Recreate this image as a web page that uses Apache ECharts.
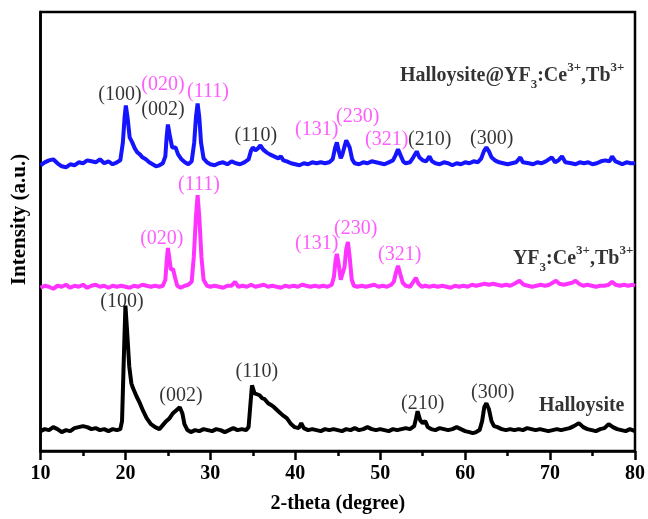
<!DOCTYPE html>
<html>
<head>
<meta charset="utf-8">
<script src="https://cdn.jsdelivr.net/npm/echarts@6/dist/echarts.min.js"></script>
<style>html,body{margin:0;padding:0;background:#fff}#c{width:648px;height:519px}</style>
</head>
<body>
<div id="c"></div>
<script>
// x ticks
const xTicks = [10, 20, 30, 40, 50, 60, 70, 80];

// Halloysite@YF3:Ce3+,Tb3+  [2theta, intensity (a.u., offset)]
const composite = [
[10.0,287],[10.5,290],[11.0,292],[11.5,293],[12.0,289],[12.5,286],[13.0,285],[13.5,288],[14.0,287],[14.5,290],
[15.0,289],[15.5,292],[16.0,291],[16.5,290],[17.0,293],[17.5,289],[18.0,291],[18.5,288],[19.0,290],[19.4,292],
[19.7,310],[19.9,335],[20.05,347],[20.25,335],[20.5,315],[20.8,310],[21.1,304],[21.4,300],[21.7,298],[22.0,295],
[22.4,293],[22.8,290],[23.2,288],[23.6,286],[24.0,287],[24.4,289],[24.7,296],[24.85,315],[25.0,328],[25.2,318],
[25.5,305],[25.9,305],[26.2,298],[26.6,293],[27.0,290],[27.4,288],[27.8,291],[28.1,310],[28.3,335],[28.5,349],
[28.7,335],[28.9,310],[29.2,294],[29.6,290],[30.0,288],[30.5,287],[31.0,289],[31.5,290],[32.0,288],[32.5,291],
[33.0,289],[33.5,288],[34.0,290],[34.5,293],[34.8,302],[35.0,305],[35.3,302],[35.6,304],[35.9,307],[36.2,303],
[36.6,300],[37.0,298],[37.5,296],[38.0,294],[38.3,296],[38.6,292],[39.0,291],[39.5,289],[40.0,288],[40.5,287],
[41.0,289],[41.5,288],[42.0,290],[42.5,289],[43.0,290],[43.5,289],[44.0,290],[44.4,293],[44.7,305],[44.9,310],
[45.1,302],[45.35,294],[45.55,298],[45.8,306],[46.0,312],[46.2,314],[46.4,305],[46.7,293],[47.0,289],[47.5,288],
[48.0,290],[48.5,289],[49.0,291],[49.5,290],[50.0,289],[50.5,288],[51.0,290],[51.5,292],[51.8,297],[52.1,303],
[52.4,297],[52.7,291],[53.0,289],[53.5,290],[53.9,295],[54.3,301],[54.6,295],[55.0,292],[55.4,291],[55.8,296],
[56.1,291],[56.5,289],[57.0,288],[57.5,290],[58.0,289],[58.5,287],[59.0,289],[59.5,288],[60.0,290],[60.5,289],
[61.0,291],[61.5,290],[61.9,294],[62.2,301],[62.5,305],[62.8,301],[63.1,295],[63.5,292],[64.0,290],[64.5,289],
[65.0,288],[65.5,289],[66.0,290],[66.5,295],[66.8,290],[67.5,289],[68.0,288],[68.5,290],[69.0,289],[69.5,291],
[70.2,295],[70.6,290],[71.0,292],[71.4,296],[71.8,290],[72.5,289],[73.0,288],[73.5,290],[74.0,289],[74.5,290],
[75.0,288],[75.5,289],[76.0,291],[76.5,292],[77.0,291],[77.3,296],[77.7,291],[78.0,290],[78.5,288],[79.0,290],
[79.5,289],[80.0,289]
];

// YF3:Ce3+,Tb3+
const yf3 = [
[10.0,164],[10.5,166],[11.0,165],[11.5,163],[12.0,166],[12.5,165],[13.0,167],[13.5,164],[14.0,166],[14.5,165],
[15.0,167],[15.5,164],[16.0,166],[16.5,167],[17.0,165],[17.5,166],[18.0,164],[18.5,166],[19.0,165],[19.5,166],
[20.0,165],[20.5,164],[21.0,166],[21.5,165],[22.0,167],[22.5,166],[23.0,165],[23.5,166],[24.0,165],[24.4,166],
[24.7,172],[24.85,190],[25.0,204],[25.15,195],[25.35,182],[25.6,183],[25.85,174],[26.1,166],[26.5,164],[27.0,166],
[27.4,167],[27.8,170],[28.05,195],[28.3,235],[28.5,257],[28.7,235],[28.95,195],[29.2,172],[29.6,166],[30.0,165],
[30.5,166],[31.0,165],[31.5,164],[32.0,166],[32.5,166],[32.9,170],[33.3,165],[33.8,166],[34.3,165],[34.8,167],
[35.3,165],[35.8,166],[36.3,167],[36.8,165],[37.3,166],[37.8,165],[38.3,164],[38.8,166],[39.3,165],[39.8,166],
[40.3,165],[40.8,167],[41.3,166],[41.8,165],[42.3,166],[42.8,165],[43.3,166],[43.8,165],[44.3,167],[44.55,175],
[44.75,192],[44.9,198],[45.1,188],[45.35,172],[45.55,170],[45.8,185],[46.0,203],[46.2,210],[46.4,195],[46.65,172],
[46.9,166],[47.3,165],[47.8,166],[48.3,165],[48.8,166],[49.3,167],[49.8,165],[50.3,166],[50.8,165],[51.3,167],
[51.6,170],[51.85,179],[52.1,186],[52.35,178],[52.65,169],[53.0,166],[53.5,165],[53.9,170],[54.2,174],[54.5,168],
[54.9,165],[55.3,166],[55.8,165],[56.3,166],[56.8,165],[57.3,166],[57.8,165],[58.3,164],[58.8,166],[59.3,165],
[59.8,166],[60.3,165],[60.8,167],[61.3,166],[61.8,167],[62.3,168],[62.8,167],[63.3,168],[63.8,167],[64.3,166],
[64.8,167],[65.3,166],[65.8,168],[66.4,171],[66.9,167],[67.4,166],[67.9,165],[68.4,166],[68.9,167],[69.4,166],
[69.9,167],[70.3,169],[70.7,171],[71.1,168],[71.6,167],[72.1,168],[72.6,169],[73.0,171],[73.4,168],[73.9,166],
[74.4,167],[74.9,166],[75.4,165],[75.9,166],[76.4,166],[76.9,167],[77.3,170],[77.7,167],[78.2,166],[78.7,167],
[79.2,166],[79.7,167],[80.0,166]
];

// Halloysite
const halloysite = [
[10.0,20],[10.5,22],[11.0,21],[11.5,24],[12.0,22],[12.5,19],[13.0,21],[13.5,20],[14.0,23],[14.5,24],
[15.0,25],[15.5,24],[16.0,22],[16.5,23],[17.0,21],[17.5,22],[18.0,20],[18.5,22],[19.0,21],[19.4,22],
[19.6,30],[19.8,90],[20.0,146],[20.2,120],[20.45,85],[20.7,68],[20.9,63],[21.3,55],[21.7,48],[22.1,40],
[22.5,33],[23.0,27],[23.5,24],[24.0,22],[24.4,26],[24.8,30],[25.2,33],[25.6,38],[26.0,41],[26.4,44],
[26.7,38],[26.95,27],[27.3,21],[27.7,19],[28.2,21],[28.7,20],[29.2,22],[29.7,21],[30.2,20],[30.7,22],
[31.2,21],[31.7,19],[32.2,21],[32.7,23],[33.2,21],[33.7,22],[34.2,21],[34.5,24],[34.7,45],[34.9,66],
[35.2,58],[35.5,57],[35.8,56],[36.1,53],[36.4,52],[36.8,48],[37.2,46],[37.5,44],[38.0,40],[38.5,36],
[39.0,33],[39.5,27],[39.9,24],[40.4,23],[40.7,28],[41.0,23],[41.5,21],[42.0,22],[42.5,21],[43.0,20],
[43.5,22],[44.0,21],[44.5,22],[45.0,21],[45.5,20],[46.0,22],[46.5,21],[47.0,23],[47.5,21],[48.0,22],
[48.5,24],[49.0,22],[49.5,21],[50.0,22],[50.5,21],[51.0,20],[51.5,22],[52.0,21],[52.5,22],[53.0,23],
[53.5,22],[54.0,25],[54.2,32],[54.4,40],[54.7,31],[55.0,28],[55.3,30],[55.6,24],[56.0,22],[56.5,21],
[57.0,23],[57.5,22],[58.0,21],[58.5,22],[59.0,24],[59.5,22],[60.0,20],[60.5,19],[60.9,18],[61.3,19],
[61.7,21],[62.0,30],[62.25,44],[62.5,48],[62.8,42],[63.1,30],[63.4,25],[63.8,24],[64.3,22],[64.8,21],
[65.3,22],[65.8,21],[66.3,22],[66.8,21],[67.3,23],[67.8,22],[68.3,21],[68.8,22],[69.3,21],[69.8,20],
[70.3,21],[70.8,22],[71.3,21],[71.8,22],[72.3,23],[72.8,25],[73.4,28],[73.9,24],[74.4,22],[74.9,21],
[75.4,20],[75.9,22],[76.4,23],[76.9,27],[77.4,24],[77.9,22],[78.4,21],[78.9,20],[79.4,22],[80.0,20]
];

// peak labels [2theta, intensity, text]
const blackLabels = [
[19.35,358,'(100)'],[24.41,343,'(002)'],[35.35,317,'(110)'],[55.82,313,'(210)'],[63.12,314,'(300)'],
[19.59,150,'(100)'],[26.53,56,'(002)'],[35.47,80,'(110)'],[55.0,47,'(210)'],[63.24,59,'(300)']
];
const pinkLabels = [
[24.41,368,'(020)'],[29.71,361,'(111)'],[42.53,323,'(131)'],[47.35,336,'(230)'],[50.76,313,'(321)'],
[24.29,213,'(020)'],[28.65,267,'(111)'],[42.53,208,'(131)'],[47.12,223,'(230)'],[52.29,197,'(321)']
];
// sample names [2theta, intensity, rich text]
const sampleNames = [
[78.76,377,'{b|Halloysite@YF}{sub|3}{b|:Ce}{sup|3+}{b|,Tb}{sup|3+}'],
[79.8,193,'{b|YF}{sub|3}{b|:Ce}{sup|3+}{b|,Tb}{sup|3+}'],
[78.76,45,'{b|Halloysite}']
];

const FONT = '"Liberation Serif","Times New Roman",serif';
const BLUE = '#1414ff', PINK = '#ff33ff', BLACK = '#000000';

function labelSeries(data, color) {
  return {
    type: 'scatter', data: data, symbolSize: 0, silent: true, z: 5,
    itemStyle: { color: 'rgba(0,0,0,0)' },
    label: {
      show: true, position: [0, 0], align: 'center', verticalAlign: 'middle',
      formatter: p => p.value[2], color: color, fontFamily: FONT, fontSize: 20
    }
  };
}

const chart = echarts.init(document.getElementById('c'));
chart.setOption({
  animation: false,
  backgroundColor: '#fff',
  grid: { left: 40.5, right: 12.5, top: 12, bottom: 66, show: true, borderColor: '#000', borderWidth: 2.5, backgroundColor: 'transparent' },
  xAxis: {
    type: 'value', min: 10, max: 80, interval: 10,
    name: '2-theta (degree)', nameLocation: 'middle', nameGap: 43,
    nameTextStyle: { fontFamily: FONT, fontWeight: 'bold', fontSize: 20, color: '#000' },
    axisLine: { show: true, lineStyle: { color: '#000', width: 2.5 } },
    axisTick: { show: true, inside: false, length: 9, lineStyle: { color: '#000', width: 2.5 } },
    minorTick: { show: true, splitNumber: 2, length: 5, lineStyle: { color: '#000', width: 2.5 } },
    splitLine: { show: false },
    axisLabel: { fontFamily: FONT, fontWeight: 'bold', fontSize: 20, color: '#000', margin: 13,
      formatter: v => xTicks.indexOf(v) >= 0 ? String(v) : '' }
  },
  yAxis: {
    type: 'value', min: 0, max: 441,
    name: 'Intensity (a.u.)', nameLocation: 'middle', nameGap: 10,
    nameTextStyle: { fontFamily: FONT, fontWeight: 'bold', fontSize: 21, color: '#000', padding: [0, 0, 0, 24] },
    axisLine: { show: true, lineStyle: { color: '#000', width: 2.5 } },
    axisTick: { show: false }, axisLabel: { show: false }, splitLine: { show: false }
  },
  series: [
    { type: 'line', data: composite, showSymbol: false, symbol: 'none', lineStyle: { color: BLUE, width: 4 }, z: 3 },
    { type: 'line', data: yf3, showSymbol: false, symbol: 'none', lineStyle: { color: PINK, width: 4 }, z: 3 },
    { type: 'line', data: halloysite, showSymbol: false, symbol: 'none', lineStyle: { color: BLACK, width: 4 }, z: 3 },
    labelSeries(blackLabels, BLACK),
    labelSeries(pinkLabels, PINK),
    {
      type: 'scatter', data: sampleNames, symbolSize: 0, silent: true, z: 5,
      itemStyle: { color: 'rgba(0,0,0,0)' },
      label: {
        show: true, position: [0, 0], align: 'right', verticalAlign: 'middle',
        formatter: p => p.value[2],
        rich: {
          b: { fontFamily: FONT, fontWeight: 'bold', fontSize: 20, color: '#000', lineHeight: 30, verticalAlign: 'middle' },
          sup: { fontFamily: FONT, fontWeight: 'bold', fontSize: 13, color: '#000', lineHeight: 13, verticalAlign: 'top' },
          sub: { fontFamily: FONT, fontWeight: 'bold', fontSize: 13, color: '#000', lineHeight: 13, verticalAlign: 'bottom' }
        }
      }
    }
  ]
});
</script>
</body>
</html>
